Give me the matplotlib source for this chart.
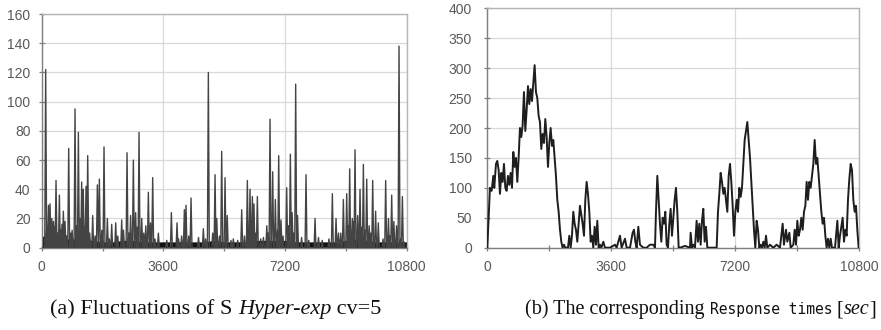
import matplotlib
matplotlib.use("Agg")
import matplotlib.pyplot as plt
from matplotlib.ticker import MultipleLocator, FixedLocator

# ---------------- data: left panel (service-time fluctuations) ----------------
spike_t = [118, 150, 200, 247, 270, 300, 350, 380, 424, 470, 523, 560, 600, 641, 690, 740,
           799, 860, 900, 986, 1030, 1085, 1130, 1183, 1230, 1270, 1312, 1361, 1420, 1509,
           1580, 1647, 1706, 1780, 1844, 1943, 2000, 2071, 2190, 2250, 2367, 2420, 2525,
           2580, 2630, 2712, 2780, 2830, 2880, 2960, 3020, 3080, 3156, 3220, 3284, 3350,
           3452, 3700, 3837, 4004, 4050, 4140, 4221, 4270, 4350, 4419, 4640, 4783, 4850,
           4931, 5060, 5129, 5180, 5260, 5326, 5425, 5490, 5600, 5670, 5800, 5918, 6000,
           6085, 6120, 6164, 6233, 6280, 6320, 6381, 6480, 6560, 6660, 6700, 6756, 6835,
           6914, 6980, 7013, 7080, 7140, 7249, 7300, 7358, 7410, 7460, 7515, 7570, 7690,
           7821, 7900, 8088, 8190, 8300, 8500, 8600, 8709, 8780, 8850, 8926, 9025, 9070,
           9113, 9190, 9230, 9271, 9350, 9419, 9470, 9518, 9560, 9617, 9690, 9740, 9794,
           9880, 9960, 10100, 10178, 10260, 10300, 10356, 10420, 10500, 10573, 10620,
           10672, 10720]
spike_v = [122, 15, 29, 30, 12, 20, 18, 14, 46, 10, 36, 12, 16, 25, 18, 8,
           68, 10, 12, 95, 15, 79, 20, 45, 40, 14, 42, 63, 10, 22,
           8, 43, 47, 12, 69, 20, 6, 16, 17, 8, 19, 12, 65,
           10, 22, 60, 24, 14, 79, 20, 10, 15, 38, 17, 48, 6,
           10, 5, 24, 17, 6, 8, 26, 29, 8, 34, 7, 13, 6,
           120, 10, 50, 20, 8, 66, 48, 22, 5, 6, 5, 26, 8,
           46, 12, 40, 35, 30, 10, 35, 6, 7, 15, 10, 88, 52,
           33, 12, 63, 19, 8, 41, 15, 64, 24, 10, 112, 22, 7,
           50, 5, 20, 7, 5, 6, 37, 20, 10, 10, 33, 37, 15,
           54, 20, 18, 67, 22, 40, 14, 57, 12, 47, 15, 10, 46,
           25, 17, 6, 46, 20, 8, 36, 18, 15, 138, 6,
           35, 4]
band_t = [0, 300, 600, 900, 1200, 1500, 1800, 2100, 2400, 2700, 3000, 3300, 3600,
          3900, 4200, 4500, 4800, 5100, 5400, 5700, 6000, 6300, 6600, 6900, 7200,
          7500, 7800, 8100, 8400, 8700, 9000, 9300, 9600, 9900, 10200, 10500, 10800]
band_v = [8, 7, 6, 6, 6, 5, 4, 4, 5, 5, 4, 4, 4,
          4, 4, 4, 4, 5, 4, 4, 4, 5, 5, 5, 5,
          4, 4, 4, 4, 4, 5, 6, 5, 4, 4, 4, 4]

# ---------------- data: right panel (response times) ----------------
resp_t = [0, 77, 126, 174, 203, 252, 291, 329, 368, 407, 446, 484, 523, 562, 600, 639, 678,
          717, 756, 794, 833, 872, 910, 949, 988, 1027, 1065, 1104, 1143, 1182, 1220, 1259,
          1298, 1337, 1375, 1414, 1453, 1492, 1530, 1569, 1608, 1647, 1685, 1724, 1763,
          1802, 1840, 1879, 1918, 1957, 1995, 2034, 2073, 2112, 2150, 2189, 2228, 2267,
          2305, 2344, 2383, 2422, 2460, 2499, 2538, 2576, 2615, 2654, 2693, 2731, 2770,
          2809, 2848, 2886, 2925, 2964, 3003, 3041, 3080, 3119, 3158, 3196, 3235, 3274,
          3313, 3371, 3419, 3564, 3710, 3758, 3855, 3903, 4000, 4049, 4146, 4223, 4262,
          4301, 4339, 4388, 4436, 4533, 4630, 4727, 4824, 4872, 4901, 4940, 4979, 5017,
          5056, 5095, 5134, 5172, 5211, 5250, 5289, 5327, 5366, 5405, 5444, 5482, 5521,
          5560, 5599, 5744, 5889, 5908, 5947, 5986, 6034, 6082, 6121, 6160, 6199, 6238,
          6276, 6315, 6354, 6393, 6664, 6703, 6741, 6780, 6819, 6858, 6896, 6935, 6974,
          7013, 7052, 7090, 7129, 7168, 7207, 7246, 7284, 7323, 7361, 7400, 7439, 7478,
          7516, 7555, 7594, 7633, 7671, 7710, 7749, 7787, 7826, 7865, 7904, 7942, 7981,
          8020, 8059, 8098, 8136, 8214, 8310, 8407, 8504, 8582, 8620, 8679, 8717, 8776,
          8814, 8892, 8931, 8970, 9008, 9047, 9086, 9124, 9163, 9202, 9241, 9279, 9318,
          9357, 9396, 9434, 9473, 9512, 9551, 9589, 9628, 9667, 9706, 9744, 9783, 9822,
          9860, 9899, 9938, 9977, 10015, 10103, 10171, 10209, 10248, 10325, 10364, 10403,
          10441, 10480, 10519, 10558, 10596, 10635, 10674, 10713, 10751, 10790]
resp_v = [0, 100, 95, 120, 100, 140, 145, 130, 90, 125, 110, 140, 100, 95, 120, 105, 125,
          100, 160, 135, 150, 110, 150, 200, 185, 205, 260, 195, 230, 270, 240, 265,
          245, 275, 305, 260, 250, 220, 210, 165, 190, 175, 215, 185, 135,
          175, 200, 170, 180, 150, 120, 80, 60, 30, 10, 0, 5, 0,
          0, 0, 20, 0, 20, 60, 40, 30, 10, 40, 70, 55, 40,
          20, 80, 110, 90, 60, 10, 20, 0, 35, 5, 45, 0, 5,
          0, 10, 0, 0, 5, 0, 20, 0, 15, 0, 0, 25, 30,
          10, 0, 35, 5, 0, 0, 5, 5, 0, 60, 120, 80, 40,
          10, 50, 40, 60, 5, 0, 40, 65, 20, 50, 80, 100, 60,
          0, 0, 3, 0, 25, 0, 5, 0, 45, 10, 40, 5, 45,
          65, 10, 35, 0, 0, 60, 90, 125, 110, 90, 100, 80, 60,
          120, 140, 110, 70, 20, 60, 80, 60, 100, 85, 100, 140, 180,
          195, 210, 180, 150, 110, 70, 30, 0, 45, 30, 0, 5, 0,
          10, 0, 20, 0, 5, 0, 5, 0, 40, 5, 30, 10, 25,
          0, 5, 30, 5, 45, 20, 30, 50, 30, 60, 70, 110, 80,
          110, 100, 120, 140, 180, 140, 150, 120, 90, 60, 40, 50, 20,
          0, 15, 0, 15, 0, 0, 45, 0, 20, 50, 10, 30,
          20, 80, 115, 140, 130, 80, 60, 70, 30, 0]

x_ticks_labeled = [0, 3600, 7200, 10800]

# ---------------- figure ----------------
W, H = 881, 330
fig = plt.figure(figsize=(W / 100, H / 100), dpi=100)
ax1 = fig.add_axes([41.7 / W, (H - 247.7) / H, 365 / W, 233.7 / H])
ax2 = fig.add_axes([487.3 / W, (H - 247.7) / H, 371.7 / W, 239.4 / H])

tick_color = "#595959"
grid_color = "#d9d9d9"


def style(ax, ymax, ystep, ypad):
    ax.set_xlim(0, 10800)
    ax.set_ylim(0, ymax)
    ax.xaxis.set_major_locator(FixedLocator(x_ticks_labeled))
    ax.xaxis.set_minor_locator(MultipleLocator(1800))
    ax.yaxis.set_major_locator(MultipleLocator(ystep))
    ax.grid(True, which="major", color=grid_color, lw=0.9, zorder=0)
    ax.set_axisbelow(True)
    for side in ("left", "bottom"):
        ax.spines[side].set_color("#7f7f7f")
        ax.spines[side].set_linewidth(1.0)
    for side in ("top", "right"):
        ax.spines[side].set_color("#b5b5b5")
        ax.spines[side].set_linewidth(1.0)
    ax.tick_params(axis="both", which="both", direction="inout", color="#7f7f7f",
                   labelcolor=tick_color, labelsize=10, width=0.9)
    ax.tick_params(axis="both", which="major", length=4)
    ax.tick_params(axis="x", which="minor", length=4)
    ax.tick_params(axis="x", which="major", pad=7)
    ax.tick_params(axis="y", which="major", pad=ypad)
    for lab in ax.get_xticklabels() + ax.get_yticklabels():
        lab.set_family("Liberation Sans")


style(ax1, 160, 20, 6)
style(ax2, 400, 50, 9)

# left panel: dense low band + spikes
ax1.fill_between(band_t, 0, band_v, color="#111111", lw=0, zorder=2)
pairs = sorted(zip(spike_t, spike_v))
xs, ys = [0], [0]
for t, v in pairs:
    xs += [t - 28, t, t + 28]
    ys += [0, v, 0]
xs.append(10800)
ys.append(0)
ax1.plot(xs, ys, color="#444444", lw=1.0, zorder=3)

# right panel: response times
ax2.plot(resp_t, resp_v, color="#1e1e1e", lw=1.4, zorder=3)

# ---------------- captions ----------------
fig.canvas.draw()
renderer = fig.canvas.get_renderer()


def caption(x_px, y_px, parts):
    x = x_px
    for text, kw in parts:
        t = fig.text(x / W, 1 - y_px / H, text, va="baseline", ha="left", **kw)
        bb = t.get_window_extent(renderer)
        x += bb.width
    return x


serif_l = dict(family="Liberation Serif", fontsize=16, color="#111111")
serif_l_it = dict(family="Liberation Serif", fontsize=16, style="italic", color="#111111")
serif_r = dict(family="Liberation Serif", fontsize=14.5, color="#111111")
serif_r_it = dict(family="Liberation Serif", fontsize=14.5, style="italic", color="#111111")
mono = dict(family="DejaVu Sans Mono", fontsize=10.5, color="#111111")

caption(50, 314, [("(a) Fluctuations of S ", serif_l), ("Hyper-exp", serif_l_it),
                  (" cv=5", serif_l)])
caption(525, 314, [("(b) The corresponding ", serif_r), ("Response times", mono),
                   (" [", serif_r), ("sec", serif_r_it), ("]", serif_r)])

fig.savefig("out.png", dpi=100)
